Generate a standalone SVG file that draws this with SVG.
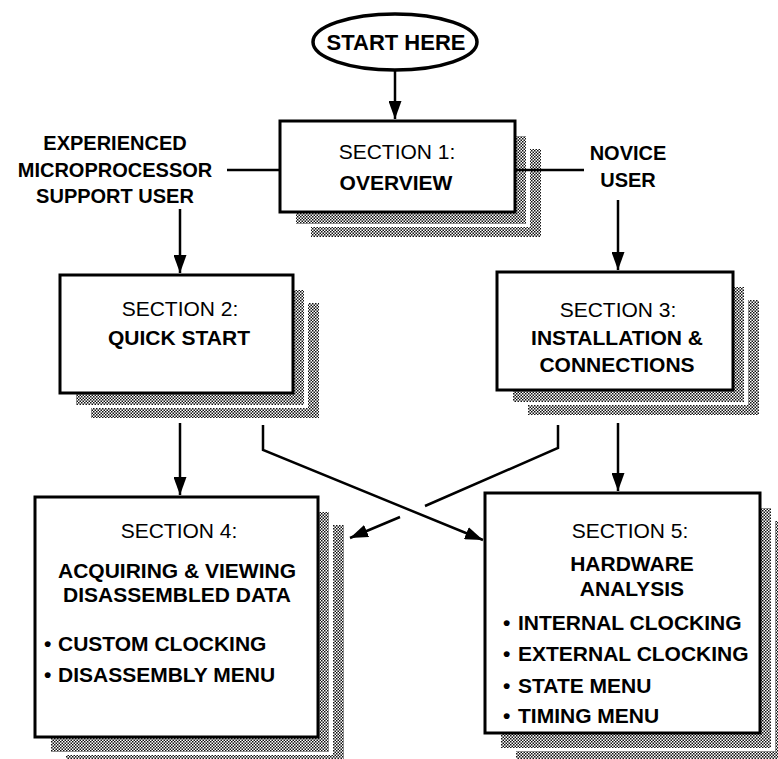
<svg xmlns="http://www.w3.org/2000/svg" width="778" height="759" viewBox="0 0 778 759">
<defs>
<pattern id="hatch" width="3" height="3" patternUnits="userSpaceOnUse">
<rect width="3" height="3" fill="#fff"/>
<rect width="1.5" height="1.5" fill="#111"/>
<rect x="1.5" y="1.5" width="1.5" height="1.5" fill="#111"/>
</pattern>
<marker id="arr" viewBox="0 0 18 13" markerWidth="18" markerHeight="13" refX="18" refY="6.5" orient="auto" markerUnits="userSpaceOnUse">
<path d="M0,0 L18,6.5 L0,13 Z" fill="#000"/>
</marker>
</defs>
<style>
.box{fill:#fff;stroke:#000;stroke-width:3}
.sh{fill:url(#hatch)}
.gap{fill:#fff}
.reg{font-family:"Liberation Sans",Arial,sans-serif;font-size:21px;text-anchor:middle;fill:#000}
.bold{font-family:"Liberation Sans",Arial,sans-serif;font-size:21px;font-weight:bold;text-anchor:middle;fill:#000}
.lbl{font-family:"Liberation Sans",Arial,sans-serif;font-size:20px;font-weight:bold;text-anchor:middle;fill:#000}
.item{font-family:"Liberation Sans",Arial,sans-serif;font-size:21px;font-weight:bold;fill:#000}
.ln{fill:none;stroke:#000;stroke-width:2.5}
</style>

<g id="start">
<ellipse cx="395" cy="42" rx="82" ry="28" fill="#fff" stroke="#000" stroke-width="3.5"/>
<text x="396" y="50" class="bold" style="font-size:22px">START HERE</text>
</g>

<g id="label-experienced">
<text x="115" y="150" class="lbl">EXPERIENCED</text>
<text x="115" y="177" class="lbl">MICROPROCESSOR</text>
<text x="115" y="203" class="lbl">SUPPORT USER</text>
</g>

<g id="label-novice">
<text x="628" y="160" class="lbl">NOVICE</text>
<text x="628" y="187" class="lbl">USER</text>
</g>

<g id="section1">
<rect x="311" y="149" width="230" height="88" class="sh"/>
<rect x="292" y="132" width="238" height="95" class="gap"/>
<rect x="296" y="136" width="230" height="88" class="sh"/>
<rect x="280" y="121" width="235" height="91" class="box"/>
<text x="397" y="159" class="reg">SECTION 1:</text>
<text x="396" y="190" class="bold">OVERVIEW</text>
</g>

<g id="section2">
<rect x="91" y="303" width="228" height="115" class="sh"/>
<rect x="72" y="286" width="236" height="122" class="gap"/>
<rect x="76" y="290" width="228" height="115" class="sh"/>
<rect x="60" y="275" width="233" height="118" class="box"/>
<text x="180" y="316" class="reg">SECTION 2:</text>
<text x="179" y="345" class="bold">QUICK START</text>
</g>

<g id="section3">
<rect x="528" y="300" width="231" height="115" class="sh"/>
<rect x="509" y="283" width="239" height="122" class="gap"/>
<rect x="513" y="287" width="231" height="115" class="sh"/>
<rect x="497" y="272" width="236" height="118" class="box"/>
<text x="618" y="317" class="reg">SECTION 3:</text>
<text x="617" y="345" class="bold">INSTALLATION &amp;</text>
<text x="617" y="372" class="bold">CONNECTIONS</text>
</g>

<g id="section4">
<rect x="66" y="525" width="278" height="240" class="sh"/>
<rect x="47" y="508" width="286" height="247" class="gap"/>
<rect x="51" y="512" width="278" height="240" class="sh"/>
<rect x="35" y="497" width="283" height="240" class="box"/>
<text x="179" y="538" class="reg">SECTION 4:</text>
<text x="177" y="578" class="bold">ACQUIRING &amp; VIEWING</text>
<text x="177" y="602" class="bold">DISASSEMBLED DATA</text>
<text class="item"><tspan x="44" y="651">•</tspan><tspan x="58" y="651">CUSTOM CLOCKING</tspan></text>
<text class="item"><tspan x="44" y="682">•</tspan><tspan x="58" y="682">DISASSEMBLY MENU</tspan></text>
</g>

<g id="section5">
<rect x="516" y="521" width="270" height="240" class="sh"/>
<rect x="497" y="504" width="278" height="247" class="gap"/>
<rect x="501" y="508" width="270" height="240" class="sh"/>
<rect x="485" y="493" width="275" height="240" class="box"/>
<text x="630" y="538" class="reg">SECTION 5:</text>
<text x="632" y="571" class="bold">HARDWARE</text>
<text x="632" y="596" class="bold">ANALYSIS</text>
<text class="item"><tspan x="503" y="630">•</tspan><tspan x="518" y="630">INTERNAL CLOCKING</tspan></text>
<text class="item"><tspan x="503" y="661">•</tspan><tspan x="518" y="661">EXTERNAL CLOCKING</tspan></text>
<text class="item"><tspan x="503" y="693">•</tspan><tspan x="518" y="693">STATE MENU</tspan></text>
<text class="item"><tspan x="503" y="723">•</tspan><tspan x="518" y="723">TIMING MENU</tspan></text>
</g>

<g id="connectors">
<path d="M395,71 V119" class="ln" marker-end="url(#arr)"/>
<path d="M227,170 H280" class="ln"/>
<path d="M515,170 H584" class="ln"/>
<path d="M180,209 V273" class="ln" marker-end="url(#arr)"/>
<path d="M618,200 V270" class="ln" marker-end="url(#arr)"/>
<path d="M180,423 V495" class="ln" marker-end="url(#arr)"/>
<path d="M618,423 V491" class="ln" marker-end="url(#arr)"/>
<path d="M263,425 V450 L483,540" class="ln" marker-end="url(#arr)"/>
<path d="M558,425 V448 L425,506" class="ln"/>
<path d="M400,517 L350,538" class="ln" marker-end="url(#arr)"/>
</g>
</svg>
